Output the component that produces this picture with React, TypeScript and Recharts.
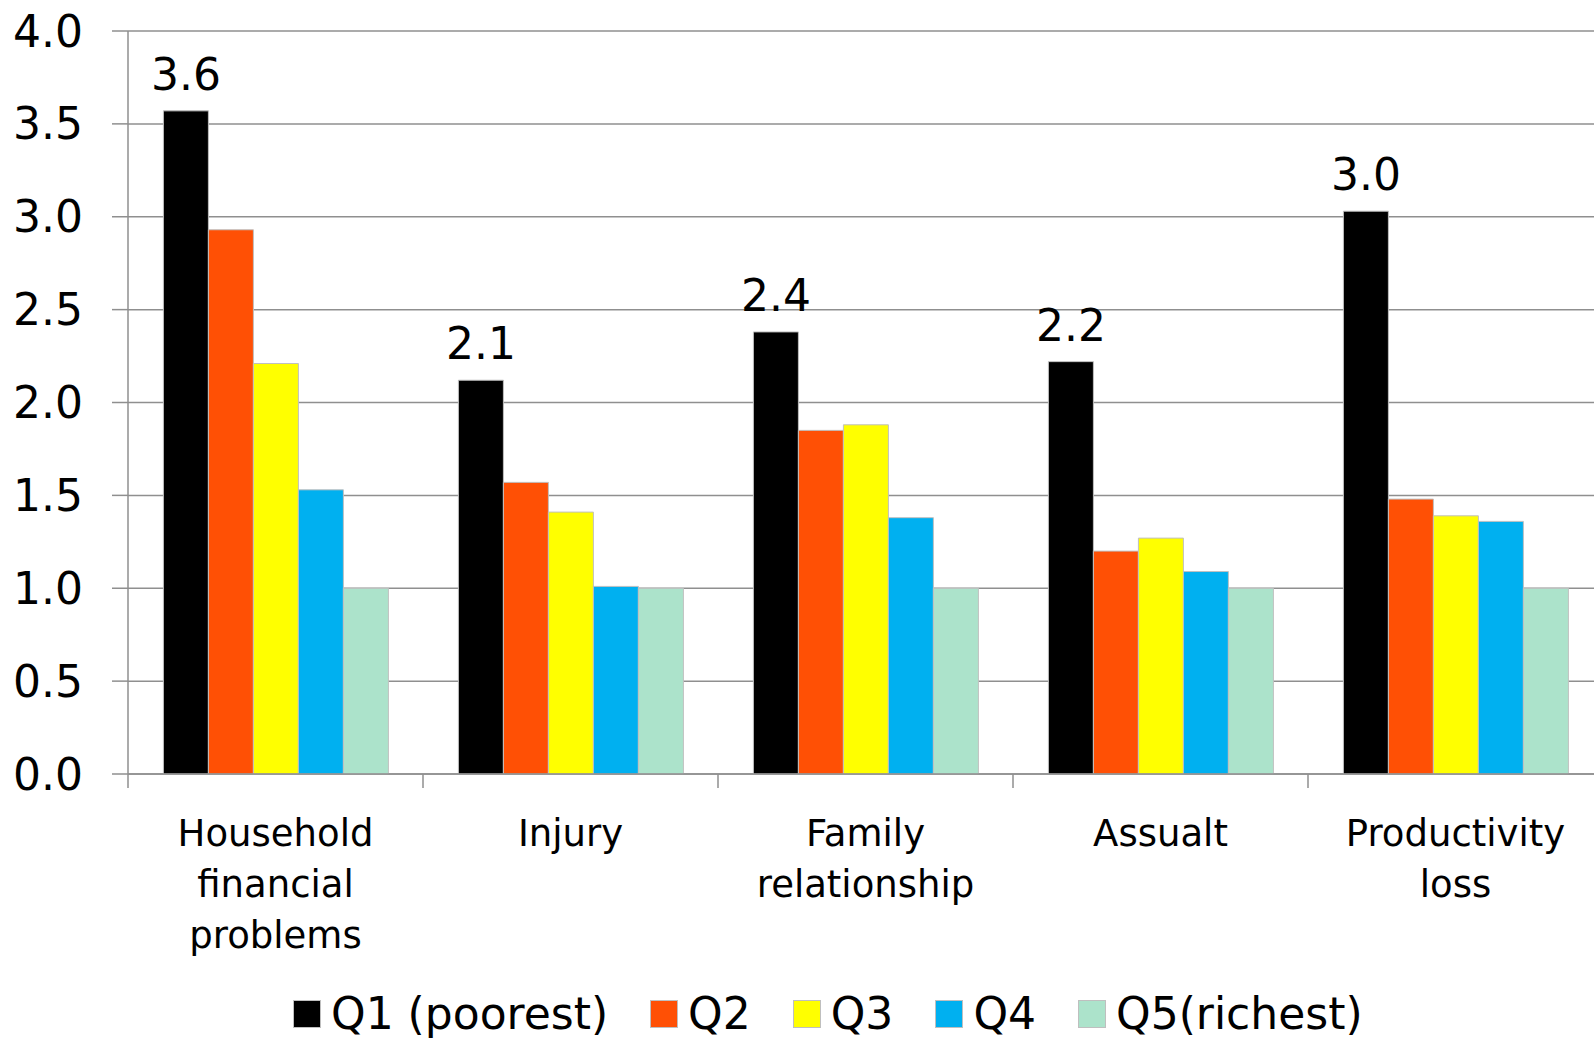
import { Bar, BarChart, CartesianGrid, LabelList, Legend, XAxis, YAxis } from "recharts";

const FONT = "'DejaVu Sans', Verdana, sans-serif";
const AXIS = "#8f8f8f";

const categories = [
  "Household\nfinancial\nproblems",
  "Injury",
  "Family\nrelationship",
  "Assualt",
  "Productivity\nloss",
];
const q1 = [3.57, 2.12, 2.38, 2.22, 3.03];
const q2 = [2.93, 1.57, 1.85, 1.2, 1.48];
const q3 = [2.21, 1.41, 1.88, 1.27, 1.39];
const q4 = [1.53, 1.01, 1.38, 1.09, 1.36];
const q5 = [1.0, 1.0, 1.0, 1.0, 1.0];
const yTicks = [0, 0.5, 1, 1.5, 2, 2.5, 3, 3.5, 4];

const series = [
  { key: "q1", name: "Q1 (poorest)", color: "#000000" },
  { key: "q2", name: "Q2", color: "#ff5005" },
  { key: "q3", name: "Q3", color: "#ffff00" },
  { key: "q4", name: "Q4", color: "#00b0f0" },
  { key: "q5", name: "Q5(richest)", color: "#ace3cb" },
];

const data = categories.map((name, i) => ({
  name,
  q1: q1[i],
  q2: q2[i],
  q3: q3[i],
  q4: q4[i],
  q5: q5[i],
}));

function CategoryTick(props: any) {
  const { x, y, payload } = props;
  const lines = String(payload.value).split("\n");
  const half = payload.offset ?? 0;
  return (
    <g>
      <line x1={x - half} x2={x - half} y1={y} y2={y + 14} stroke={AXIS} strokeWidth={1.5} />
      <text x={x} y={y} textAnchor="middle" fontFamily={FONT} fontSize={37} fill="#000">
        {lines.map((l, i) => (
          <tspan key={i} x={x} dy={i === 0 ? 72 : 51}>
            {l}
          </tspan>
        ))}
      </text>
    </g>
  );
}

function LegendContent() {
  return (
    <div
      style={{
        display: "flex",
        alignItems: "center",
        fontFamily: FONT,
        fontSize: 44,
        lineHeight: "44px",
        height: 44,
        color: "#000",
      }}
    >
      {series.map((s) => (
        <div key={s.key} style={{ display: "flex", alignItems: "center", marginRight: 42 }}>
          <span
            style={{
              display: "inline-block",
              width: 26,
              height: 26,
              background: s.color,
              border: "1px solid #bfbfbf",
              marginRight: 10,
            }}
          />
          <span>{s.name}</span>
        </div>
      ))}
    </div>
  );
}

export default function App() {
  return (
    <div
      style={{
        position: "fixed",
        left: 0,
        top: 0,
        width: 1594,
        height: 1038,
        overflow: "hidden",
        background: "#fff",
      }}
    >
      <BarChart
        width={1620}
        height={1038}
        data={data}
        margin={{ top: 31, right: 17, left: 0, bottom: 0 }}
        barCategoryGap="12%"
        barGap={0}
      >
        <CartesianGrid vertical={false} stroke={AXIS} strokeWidth={1.5} />
        <XAxis
          dataKey="name"
          height={220}
          tickSize={0}
          tickMargin={0}
          tickLine={false}
          axisLine={{ stroke: AXIS, strokeWidth: 1.5 }}
          tick={<CategoryTick />}
          interval={0}
        />
        <YAxis
          width={128}
          domain={[0, 4]}
          ticks={yTicks}
          tickSize={16}
          tickMargin={29}
          tickFormatter={(v: number) => v.toFixed(1)}
          tick={{ fontFamily: FONT, fontSize: 44, fill: "#000" }}
          tickLine={{ stroke: AXIS, strokeWidth: 1.5 }}
          axisLine={{ stroke: AXIS, strokeWidth: 1.5 }}
        />
        <Legend
          verticalAlign="bottom"
          content={<LegendContent />}
          wrapperStyle={{ top: 992, left: 293, width: 1250, height: 44 }}
        />
        {series.map((s) => (
          <Bar
            key={s.key}
            dataKey={s.key}
            name={s.name}
            fill={s.color}
            stroke="#c0c0c0"
            strokeWidth={1}
            isAnimationActive={false}
          >
            {s.key === "q1" && (
              <LabelList
                dataKey="q1"
                position="top"
                offset={21}
                formatter={(v: any) => Number(v).toFixed(1)}
                style={{ fontFamily: FONT, fontSize: 44, fill: "#000" }}
              />
            )}
          </Bar>
        ))}
      </BarChart>
    </div>
  );
}
